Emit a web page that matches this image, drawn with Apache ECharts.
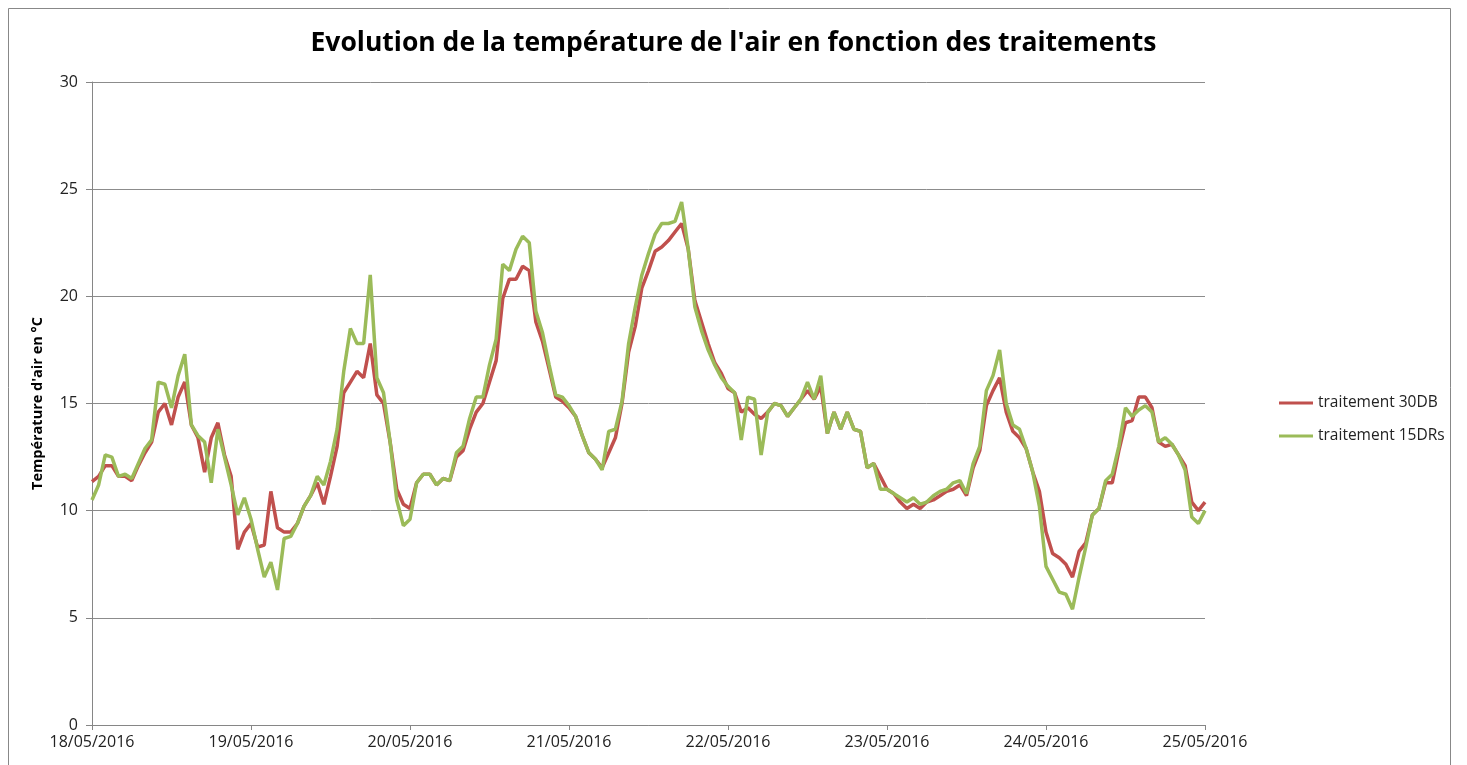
<!DOCTYPE html>
<html>
<head>
<meta charset="utf-8">
<title>Evolution de la température de l'air</title>
<script src="https://cdn.jsdelivr.net/npm/echarts@6/dist/echarts.min.js"></script>
<style>
html, body {margin: 0; padding: 0; background: #fff;}
#main {width: 1467px; height: 765px;}
</style>
</head>
<body>
<div id="main"></div>
<script>
// libellés des jours (un tick toutes les 24 h)
var jours = ['18/05/2016', '19/05/2016', '20/05/2016', '21/05/2016', '22/05/2016', '23/05/2016', '24/05/2016', '25/05/2016'];
var yTicks = [0, 5, 10, 15, 20, 25, 30];

// relevés horaires (h 0 -> 168)
var t30DB = [
    11.35, 11.6, 12.1, 12.1, 11.6, 11.6, 11.4, 12.1, 12.7, 13.2, 14.6, 15.0, 14.0, 15.3, 16.0, 14.0, 13.4, 11.8, 13.4, 14.1, 12.6, 11.6, 8.2, 9.0,
    9.4, 8.3, 8.4, 10.9, 9.2, 9.0, 9.0, 9.4, 10.2, 10.7, 11.3, 10.3, 11.6, 13.0, 15.5, 16.0, 16.5, 16.2, 17.8, 15.4, 15.0, 13.2, 11.0, 10.3,
    10.1, 11.3, 11.7, 11.7, 11.2, 11.5, 11.4, 12.5, 12.8, 13.8, 14.6, 15.0, 16.0, 17.0, 19.9, 20.8, 20.8, 21.4, 21.2, 18.8, 17.9, 16.6, 15.3, 15.1,
    14.8, 14.4, 13.5, 12.7, 12.4, 12.0, 12.7, 13.4, 15.0, 17.4, 18.6, 20.4, 21.2, 22.1, 22.3, 22.6, 23.0, 23.4, 22.2, 19.8, 18.8, 17.8, 16.9, 16.4,
    15.7, 15.5, 14.6, 14.8, 14.5, 14.3, 14.6, 15.0, 14.9, 14.4, 14.8, 15.2, 15.6, 15.2, 15.8, 13.6, 14.6, 13.8, 14.6, 13.8, 13.7, 12.0, 12.2, 11.6,
    11.0, 10.8, 10.4, 10.1, 10.3, 10.1, 10.4, 10.5, 10.7, 10.9, 11.0, 11.2, 10.7, 12.0, 12.8, 14.9, 15.6, 16.2, 14.6, 13.7, 13.4, 12.9, 11.8, 10.9,
    9.0, 8.0, 7.8, 7.5, 6.9, 8.1, 8.5, 9.8, 10.1, 11.3, 11.3, 12.8, 14.1, 14.2, 15.3, 15.3, 14.8, 13.2, 13.0, 13.1, 12.6, 12.1, 10.4, 10.0,
    10.4
];
var t15DRs = [
    10.5, 11.2, 12.6, 12.5, 11.6, 11.7, 11.5, 12.2, 12.9, 13.3, 16.0, 15.9, 14.8, 16.3, 17.3, 14.0, 13.5, 13.2, 11.3, 13.8, 12.5, 11.2, 9.8, 10.6,
    9.6, 8.2, 6.9, 7.6, 6.3, 8.7, 8.8, 9.4, 10.2, 10.7, 11.6, 11.2, 12.3, 13.8, 16.5, 18.5, 17.8, 17.8, 21.0, 16.2, 15.5, 13.2, 10.5, 9.3,
    9.6, 11.3, 11.7, 11.7, 11.2, 11.5, 11.4, 12.7, 13.0, 14.3, 15.3, 15.3, 16.8, 18.0, 21.5, 21.2, 22.2, 22.8, 22.5, 19.3, 18.3, 16.8, 15.4, 15.3,
    14.9, 14.4, 13.5, 12.7, 12.4, 11.9, 13.7, 13.8, 15.1, 17.8, 19.5, 21.0, 22.0, 22.9, 23.4, 23.4, 23.5, 24.4, 22.2, 19.5, 18.4, 17.5, 16.8, 16.2,
    15.8, 15.5, 13.3, 15.3, 15.2, 12.6, 14.6, 15.0, 14.9, 14.4, 14.8, 15.2, 16.0, 15.2, 16.3, 13.6, 14.6, 13.8, 14.6, 13.8, 13.7, 12.0, 12.2, 11.0,
    11.0, 10.8, 10.6, 10.4, 10.6, 10.3, 10.4, 10.7, 10.9, 11.0, 11.3, 11.4, 10.8, 12.2, 13.0, 15.6, 16.3, 17.5, 15.0, 14.0, 13.8, 12.9, 11.8, 10.2,
    7.4, 6.8, 6.2, 6.1, 5.4, 6.9, 8.3, 9.8, 10.1, 11.4, 11.7, 13.0, 14.8, 14.4, 14.7, 14.9, 14.6, 13.2, 13.4, 13.1, 12.6, 11.9, 9.7, 9.4,
    10.0
];

function toPoints(arr) {
    var pts = [];
    for (var i = 0; i < arr.length; i++) {
        pts.push([i, arr[i]]);
    }
    return pts;
}

var chart = echarts.init(document.getElementById('main'));

var option = {
    backgroundColor: '#fff',
    animation: false,
    title: {
        text: "Evolution de la température de l'air en fonction des traitements",
        left: 'center',
        top: 25,
        textStyle: {
            fontFamily: 'Open Sans',
            fontSize: 26.5,
            fontWeight: 'bold',
            color: '#000'
        }
    },
    graphic: [{
        type: 'rect',
        shape: {x: 8.5, y: 8.5, width: 1442, height: 800},
        style: {fill: 'none', stroke: '#888', lineWidth: 1},
        silent: true
    }],
    legend: {
        orient: 'vertical',
        left: 1274,
        top: 390,
        itemWidth: 34,
        itemHeight: 3,
        itemGap: 17,
        icon: 'rect',
        textStyle: {fontFamily: 'Open Sans', fontSize: 15.5, color: '#222'},
        data: ['traitement 30DB', 'traitement 15DRs']
    },
    color: ['#C0504D', '#9BBB59'],
    grid: {left: 92, right: 262, top: 82, bottom: 40},
    xAxis: {
        type: 'value',
        min: 0,
        max: 168,
        interval: 24,
        axisLine: {lineStyle: {color: '#868686', width: 1}},
        axisTick: {show: true, length: 5, lineStyle: {color: '#868686'}},
        splitLine: {show: false},
        axisLabel: {
            fontFamily: 'Open Sans',
            fontSize: 16,
            color: '#222',
            margin: 9,
            formatter: function (v) {
                return jours[Math.round(v / 24)];
            }
        }
    },
    yAxis: {
        type: 'value',
        min: yTicks[0],
        max: yTicks[yTicks.length - 1],
        interval: 5,
        name: "Température d'air en °C",
        nameLocation: 'middle',
        nameGap: 47,
        nameTextStyle: {fontFamily: 'Open Sans', fontSize: 14.5, fontWeight: 'bold', color: '#000'},
        axisLine: {show: true, lineStyle: {color: '#868686', width: 1}},
        axisTick: {show: true, length: 6, lineStyle: {color: '#868686'}},
        splitLine: {lineStyle: {color: '#8c8c8c', width: 1}},
        axisLabel: {fontFamily: 'Open Sans', fontSize: 16, color: '#222', margin: 14}
    },
    series: [{
        name: 'traitement 30DB',
        type: 'line',
        data: toPoints(t30DB),
        showSymbol: false,
        lineStyle: {width: 3.5, color: '#C0504D'},
        z: 2
    }, {
        name: 'traitement 15DRs',
        type: 'line',
        data: toPoints(t15DRs),
        showSymbol: false,
        lineStyle: {width: 3.5, color: '#9BBB59'},
        z: 3
    }]
};

chart.setOption(option);
</script>
</body>
</html>
